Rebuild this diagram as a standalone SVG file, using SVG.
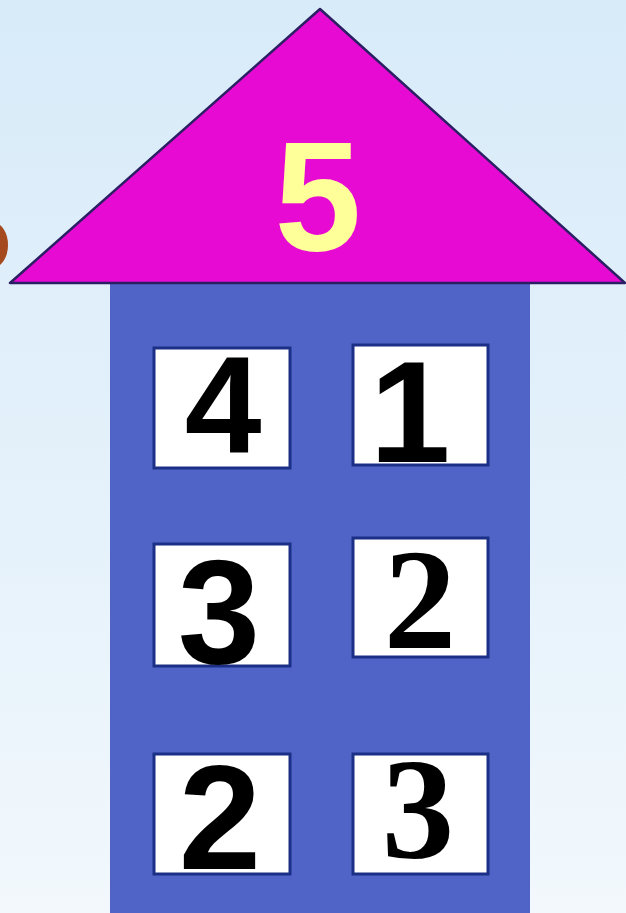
<svg xmlns="http://www.w3.org/2000/svg" width="626" height="913" viewBox="0 0 626 913">
<defs>
<linearGradient id="bg" x1="0" y1="0" x2="0" y2="1">
<stop offset="0" stop-color="#d8ebf9"/>
<stop offset="0.6" stop-color="#e6f2fb"/>
<stop offset="1" stop-color="#f2f8fc"/>
</linearGradient>
<style>
.win{fill:#ffffff;stroke:#1c2f86;stroke-width:3}
.sans{font-family:'Liberation Sans',Arial,sans-serif;font-weight:bold;fill:#000;text-anchor:middle}
.serif{font-family:'Liberation Serif','Times New Roman',serif;font-weight:bold;fill:#000;text-anchor:middle}
</style>
</defs>
<rect x="0" y="0" width="626" height="913" fill="url(#bg)"/>
<ellipse cx="-6" cy="245" rx="14" ry="22" fill="#a44a1e"/>
<g id="body">
<rect x="110" y="282" width="420" height="640" fill="#4f64c6"/>
</g>
<g id="roof">
<polygon points="320,9 10,283 625,283" fill="#e60ad2" stroke="#2a1f63" stroke-width="2.5" stroke-linejoin="round"/>
<text x="318" y="250" font-family="Liberation Sans, Arial, sans-serif" font-weight="bold" font-size="156" fill="#ffff99" text-anchor="middle">5</text>
</g>
<g id="w1">
<rect class="win" x="154" y="348" width="136" height="120"/>
<text class="sans" x="223" y="452" font-size="138">4</text>
</g>
<g id="w2">
<rect class="win" x="353" y="345" width="135" height="120"/>
<text class="sans" x="410" y="462" font-size="145">1</text>
</g>
<g id="w3">
<rect class="win" x="154" y="544" width="136" height="122"/>
<text class="sans" x="219" y="663" font-size="148">3</text>
</g>
<g id="w4">
<rect class="win" x="353" y="538" width="135" height="119"/>
<text class="serif" x="420" y="648" font-size="145">2</text>
</g>
<g id="w5">
<rect class="win" x="154" y="754" width="136" height="120"/>
<text class="sans" x="220" y="869" font-size="148">2</text>
</g>
<g id="w6">
<rect class="win" x="353" y="754" width="135" height="120"/>
<text class="serif" x="418" y="858" font-size="145">3</text>
</g>
</svg>
